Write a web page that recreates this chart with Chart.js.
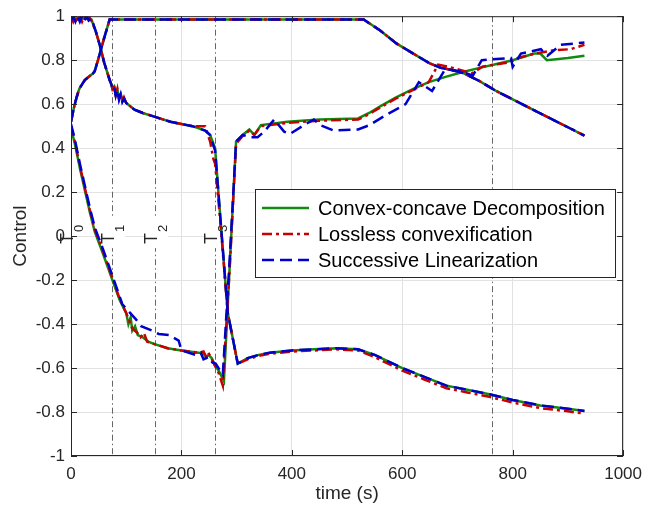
<!DOCTYPE html>
<html>
<head>
<meta charset="utf-8">
<script src="https://cdn.jsdelivr.net/npm/chart.js@4.4.1/dist/chart.umd.min.js"></script>
<style>
  html, body { margin: 0; padding: 0; background: #fff; }
  #wrap { width: 650px; height: 508px; }
</style>
</head>
<body>
<div id="wrap"><canvas id="chart" width="650" height="508"></canvas></div>
<script>
// ── DATA ──
const methodNames = ['Convex-concave Decomposition', 'Lossless convexification', 'Successive Linearization'];

// phase marker lines (s) and their labels
const markerTimes = [75, 152, 261, 762];
const phaseTimes = [0, 75, 152, 261];
const phaseSubs = ['0', '1', '2', '3'];

// control 1 (same for all three methods)
const u1Time = [0, 5, 10, 15, 20, 25, 30, 35, 40, 43, 50, 60, 70, 100, 200, 300, 400, 500, 530, 560, 590, 620, 650, 670, 690, 710, 740, 770, 800, 850, 900, 930];
const u1Vals = [0.52, 0.58, 0.63, 0.67, 0.69, 0.71, 0.72, 0.73, 0.74, 0.75, 0.81, 0.90, 0.985, 0.985, 0.985, 0.985, 0.985, 0.985, 0.985, 0.935, 0.875, 0.83, 0.785, 0.765, 0.755, 0.742, 0.705, 0.66, 0.622, 0.558, 0.495, 0.457];

// control 2
const u2Time = [0, 4, 8, 12, 16, 20, 24, 28, 32, 37, 45, 52, 60, 70, 73, 75, 78, 81, 84, 87, 90, 93, 96, 100, 115, 130, 155, 180, 200, 220, 243, 252, 258, 261, 270, 284, 302, 320, 340, 360, 400, 440, 480, 520, 550, 600, 640, 680, 720, 760, 800, 850, 900, 930];
const u2Green = [0.99, 0.99, 0.99, 0.99, 0.99, 0.99, 0.99, 0.99, 0.99, 0.985, 0.93, 0.87, 0.79, 0.71, 0.69, 0.67, 0.68, 0.645, 0.665, 0.63, 0.645, 0.615, 0.625, 0.605, 0.575, 0.56, 0.54, 0.52, 0.51, 0.50, 0.48, 0.46, 0.42, 0.40, 0.10, -0.35, -0.58, -0.555, -0.54, -0.53, -0.52, -0.515, -0.51, -0.515, -0.54, -0.60, -0.64, -0.68, -0.70, -0.72, -0.745, -0.77, -0.785, -0.795];
const u2Red = [1.0, 0.975, 1.0, 0.975, 1.0, 0.975, 1.0, 0.98, 1.0, 0.98, 0.93, 0.87, 0.79, 0.71, 0.69, 0.67, 0.685, 0.64, 0.67, 0.625, 0.65, 0.61, 0.63, 0.605, 0.575, 0.56, 0.54, 0.52, 0.51, 0.50, 0.50, 0.43, 0.35, 0.33, 0.08, -0.35, -0.58, -0.56, -0.545, -0.535, -0.525, -0.52, -0.515, -0.52, -0.55, -0.612, -0.652, -0.692, -0.712, -0.732, -0.757, -0.782, -0.797, -0.807];
const u2Blue = [0.98, 1.0, 0.975, 1.0, 0.975, 1.0, 0.975, 1.0, 0.98, 0.99, 0.93, 0.87, 0.79, 0.71, 0.69, 0.67, 0.68, 0.64, 0.665, 0.62, 0.645, 0.61, 0.625, 0.605, 0.575, 0.56, 0.54, 0.52, 0.51, 0.50, 0.48, 0.46, 0.41, 0.39, 0.10, -0.35, -0.58, -0.555, -0.54, -0.53, -0.52, -0.515, -0.51, -0.515, -0.54, -0.60, -0.64, -0.68, -0.70, -0.72, -0.745, -0.77, -0.785, -0.795];

// control 3
const u3TimeGreen = [0, 7, 16, 25, 34, 43, 58, 75, 88, 100, 104, 108, 111, 116, 121, 130, 140, 150, 175, 200, 231, 240, 245, 249, 255, 261, 267, 277, 288, 299, 311, 323, 332, 344, 392, 450, 520, 540, 560, 588, 620, 648, 680, 708, 740, 767, 800, 839, 850, 862, 900, 930];
const u3Green = [0.49, 0.42, 0.31, 0.21, 0.11, 0.02, -0.08, -0.2, -0.29, -0.35, -0.40, -0.37, -0.43, -0.41, -0.45, -0.46, -0.48, -0.49, -0.51, -0.52, -0.53, -0.535, -0.55, -0.54, -0.555, -0.59, -0.61, -0.66, -0.11, 0.43, 0.46, 0.485, 0.46, 0.505, 0.52, 0.53, 0.535, 0.56, 0.59, 0.63, 0.67, 0.70, 0.725, 0.745, 0.765, 0.78, 0.80, 0.83, 0.83, 0.80, 0.81, 0.82];
const u3TimeRed = [0, 7, 16, 25, 34, 43, 58, 75, 88, 100, 111, 120, 126, 132, 138, 150, 175, 200, 231, 240, 245, 249, 255, 261, 267, 275, 288, 299, 311, 323, 332, 344, 392, 450, 520, 540, 560, 588, 620, 648, 665, 684, 705, 726, 745, 767, 795, 810, 840, 875, 905, 930];
const u3Red = [0.50, 0.43, 0.32, 0.22, 0.12, 0.03, -0.07, -0.19, -0.285, -0.35, -0.42, -0.44, -0.46, -0.44, -0.48, -0.49, -0.51, -0.52, -0.53, -0.525, -0.55, -0.53, -0.56, -0.59, -0.62, -0.68, -0.12, 0.42, 0.455, 0.48, 0.46, 0.50, 0.515, 0.525, 0.53, 0.555, 0.585, 0.625, 0.665, 0.70, 0.78, 0.77, 0.755, 0.74, 0.77, 0.78, 0.79, 0.81, 0.83, 0.845, 0.85, 0.87];
const u3TimeBlue = [0, 7, 16, 25, 34, 43, 58, 75, 93, 118, 127, 147, 159, 177, 195, 200, 225, 235, 240, 249, 256, 262, 275, 288, 299, 311, 323, 338, 350, 368, 386, 397, 422, 440, 451, 476, 520, 541, 570, 606, 630, 654, 678, 704, 728, 744, 770, 797, 800, 815, 851, 863, 887, 930];
const u3Blue = [0.51, 0.44, 0.33, 0.23, 0.13, 0.04, -0.06, -0.18, -0.31, -0.38, -0.41, -0.43, -0.445, -0.45, -0.475, -0.52, -0.54, -0.53, -0.56, -0.55, -0.575, -0.58, -0.63, -0.08, 0.43, 0.46, 0.45, 0.45, 0.475, 0.53, 0.475, 0.465, 0.505, 0.53, 0.505, 0.48, 0.485, 0.505, 0.55, 0.60, 0.70, 0.66, 0.76, 0.75, 0.73, 0.80, 0.805, 0.81, 0.77, 0.83, 0.85, 0.82, 0.87, 0.88];

// ── STYLE ──
const FONT = '"Liberation Sans", Arial, Helvetica, sans-serif';
const INK = '#262626';
const GREEN = '#128a12';
const RED = '#c80000';
const BLUE = '#0000cc';
const DASH = [[], [10, 4, 3, 4], [12, 6]];
const COLORS = [GREEN, RED, BLUE];

const pts = (t, v) => t.map((x, i) => ({ x, y: v[i] }));

const curves = [
  [pts(u1Time, u1Vals), pts(u2Time, u2Green), pts(u3TimeGreen, u3Green)],
  [pts(u1Time, u1Vals), pts(u2Time, u2Red), pts(u3TimeRed, u3Red)],
  [pts(u1Time, u1Vals), pts(u2Time, u2Blue), pts(u3TimeBlue, u3Blue)]
];

const datasets = [];
curves.forEach((set, m) => {
  set.forEach((data, k) => {
    datasets.push({
      label: methodNames[m],
      showInLegend: k === 0,
      data,
      borderColor: COLORS[m],
      borderWidth: 2.5,
      borderDash: DASH[m],
      pointRadius: 0,
      tension: 0,
      fill: false,
      order: 3 - m
    });
  });
});

// ── PLUGIN: phase lines, frame, legend ──
const decor = {
  id: 'decor',
  beforeDatasetsDraw(chart) {
    const { ctx, chartArea: a, scales: { x, y } } = chart;
    const y0 = y.getPixelForValue(0);
    ctx.save();
    ctx.strokeStyle = '#555';
    ctx.lineWidth = 0.9;
    ctx.setLineDash([6, 3, 1.5, 3]);
    markerTimes.forEach(t => {
      const px = Math.round(x.getPixelForValue(t)) + 0.5;
      ctx.beginPath();
      ctx.moveTo(px, a.top);
      ctx.lineTo(px, a.bottom);
      ctx.stroke();
    });
    ctx.setLineDash([]);
    phaseTimes.forEach((t, i) => {
      const px = x.getPixelForValue(t);
      if (t > 0) {
        ctx.fillStyle = '#fff';
        ctx.fillRect(px - 9, y0 - 18, 22, 30);
      }
      ctx.save();
      ctx.translate(px + 2, y0 + 8);
      ctx.rotate(-Math.PI / 2);
      ctx.fillStyle = INK;
      ctx.textBaseline = 'alphabetic';
      ctx.textAlign = 'left';
      ctx.font = '18px ' + FONT;
      ctx.fillText('T', 0, 0);
      const w = ctx.measureText('T').width;
      ctx.font = '13px ' + FONT;
      ctx.fillText(phaseSubs[i], w + 1, 10);
      ctx.restore();
    });
    ctx.restore();
  },
  afterDatasetsDraw(chart) {
    const { ctx, chartArea: a, scales: { x, y } } = chart;
    ctx.save();
    // frame with inward ticks
    ctx.strokeStyle = INK;
    ctx.lineWidth = 1;
    ctx.strokeRect(a.left + 0.5, a.top + 0.5, a.right - a.left - 1, a.bottom - a.top - 1);
    ctx.beginPath();
    x.ticks.forEach(tk => {
      const px = Math.round(x.getPixelForValue(tk.value)) + 0.5;
      ctx.moveTo(px, a.bottom); ctx.lineTo(px, a.bottom - 6);
      ctx.moveTo(px, a.top); ctx.lineTo(px, a.top + 6);
    });
    y.ticks.forEach(tk => {
      const py = Math.round(y.getPixelForValue(tk.value)) + 0.5;
      ctx.moveTo(a.left, py); ctx.lineTo(a.left + 6, py);
      ctx.moveTo(a.right, py); ctx.lineTo(a.right - 6, py);
    });
    ctx.stroke();

    // legend
    const items = chart.data.datasets.filter(d => d.showInLegend);
    const bx = 255.5, by = 189.5, bw = 360, bh = 88;
    ctx.fillStyle = '#fff';
    ctx.fillRect(bx, by, bw, bh);
    ctx.strokeStyle = INK;
    ctx.lineWidth = 1;
    ctx.strokeRect(bx, by, bw, bh);
    ctx.font = '20px ' + FONT;
    ctx.textBaseline = 'middle';
    ctx.textAlign = 'left';
    items.forEach((d, i) => {
      const cy = 208 + i * 26;
      ctx.strokeStyle = d.borderColor;
      ctx.lineWidth = 2.5;
      ctx.setLineDash(d.borderDash);
      ctx.beginPath();
      ctx.moveTo(262, cy);
      ctx.lineTo(309, cy);
      ctx.stroke();
      ctx.setLineDash([]);
      ctx.fillStyle = '#000';
      ctx.fillText(d.label, 318, cy + 1);
    });
    ctx.restore();
  }
};

new Chart(document.getElementById('chart'), {
  type: 'line',
  data: { datasets },
  options: {
    responsive: false,
    animation: false,
    layout: { padding: { top: 14, right: 20, bottom: 0, left: 0 } },
    plugins: { legend: { display: false }, tooltip: { enabled: false } },
    scales: {
      x: {
        type: 'linear',
        min: 0, max: 1000,
        afterFit: s => { s.height = 52; },
        ticks: { stepSize: 200, color: INK, font: { family: FONT, size: 17 }, padding: 8, maxRotation: 0,
          callback: v => String(v) },
        grid: { color: '#e2e2e2', drawTicks: false },
        border: { display: false },
        title: { display: true, text: 'time (s)', color: INK, font: { family: FONT, size: 19 }, padding: { top: 0, bottom: 3 } }
      },
      y: {
        min: -1, max: 1,
        afterFit: s => { s.width = 71; },
        ticks: { stepSize: 0.2, color: INK, font: { family: FONT, size: 17 }, padding: 6,
          callback: v => String(Math.round(v * 10) / 10) },
        grid: { color: '#e2e2e2', drawTicks: false },
        border: { display: false },
        title: { display: true, text: 'Control', color: INK, font: { family: FONT, size: 19 }, padding: { top: 9, bottom: 0 } }
      }
    }
  },
  plugins: [decor]
});
</script>
</body>
</html>
